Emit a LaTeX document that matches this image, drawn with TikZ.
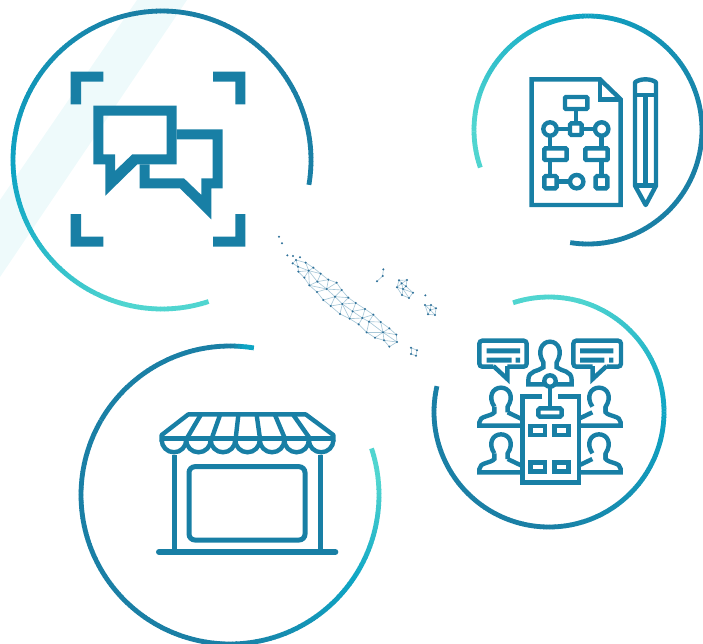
\documentclass[tikz,border=0pt]{standalone}
\usepackage{xcolor}
\definecolor{icon}{HTML}{187FA5}
\definecolor{dk}{HTML}{1A7FA5}
\definecolor{bl}{HTML}{0EA5C4}
\definecolor{tl}{HTML}{50D5D0}
\definecolor{stripe}{HTML}{EEFAFB}
\definecolor{mesh}{HTML}{A9C8D8}
\definecolor{dot}{HTML}{2C6F98}
\tikzset{
  ic/.style={draw=icon,line width=#1,line join=miter,fill=none},
  ic/.default=4.4pt,
  solidicon/.style={fill=icon,draw=none,even odd rule},
  zoomthree/.style={x=0.33333pt,y=-0.33333pt},
}
% \gradarc{cx}{cy}{r}{a0}{a1}{a2}{a3}{c0}{c1}{c2}: c0 held a0..a1, c0->c1 a1..a2, c1->c2 a2..a3
\makeatletter
\newcommand{\gradarc}[9]{\def\ga@a{#1}\def\ga@b{#2}\def\ga@c{#3}\def\ga@d{#4}\def\ga@e{#5}\def\ga@f{#6}\def\ga@g{#7}\def\ga@h{#8}\def\ga@i{#9}\ga@next}
\newcommand{\ga@next}[1]{%
  \pgfmathtruncatemacro{\ga@n}{abs((\ga@g)-(\ga@d))/1.5+1}%
  \foreach \k in {1,...,\ga@n}{%
    \pgfmathsetmacro{\aone}{(\ga@d)+((\k-1)/\ga@n)*((\ga@g)-(\ga@d))}%
    \pgfmathsetmacro{\atwo}{(\ga@d)+((\k+0.15)/\ga@n)*((\ga@g)-(\ga@d))}%
    \pgfmathsetmacro{\pa}{max(0,min(1,((\aone)-(\ga@e))/((\ga@f)-(\ga@e))))}%
    \pgfmathsetmacro{\pb}{max(0,min(1,((\aone)-(\ga@f))/((\ga@g)-(\ga@f))))}%
    \pgfmathtruncatemacro{\qa}{100*(1-\pa)}%
    \pgfmathtruncatemacro{\qb}{100*(1-\pb)}%
    \colorlet{segc}{\ga@i!\qb!#1}%
    \ifdim\pa pt<1pt \colorlet{segc}{\ga@h!\qa!\ga@i}\fi
    \draw[segc,line width=4.8pt] ({\ga@a+\ga@c*cos(\aone)},{\ga@b+\ga@c*sin(\aone)}) -- ({\ga@a+\ga@c*cos(\atwo)},{\ga@b+\ga@c*sin(\atwo)});
  }%
}
\makeatother
\newcommand{\person}[2]{%
  \begin{scope}[shift={(#1,#2)}]
  \draw[ic] (-20,25) .. controls (-40,-5) and (-25,-32) .. (0,-32) .. controls (25,-32) and (40,-5) .. (20,25) -- (20,42);
  \draw[ic] (-20,25) -- (-20,42) .. controls (-30,55) and (-65,52) .. (-65,72) -- (-65,82) -- (62,82);
  \draw[ic] (20,42) -- (62,62);
  \end{scope}}
\newcommand{\personr}[2]{%
  \begin{scope}[shift={(#1,#2)}]
  \draw[ic] (-20,25) .. controls (-40,-5) and (-25,-32) .. (0,-32) .. controls (25,-32) and (40,-5) .. (20,25) -- (20,42);
  \draw[ic] (20,25) -- (20,42) .. controls (30,55) and (65,52) .. (65,72) -- (65,82) -- (-62,82);
  \draw[ic] (-20,42) -- (-62,62);
  \end{scope}}
\begin{document}
\begin{tikzpicture}[x=1pt,y=-1pt]
\useasboundingbox (0,0) rectangle (703,643);
\fill[stripe] (137,0) -- (187,0) -- (0,277) -- (0,200) -- cycle;

% rings
\gradarc{162}{160}{149}{9.6}{-100}{-185}{-255}{dk}{bl}{tl}
\gradarc{162}{160}{149}{-255}{-265}{-275}{-288}{tl}{tl}{tl}
\gradarc{588}{130}{114}{459}{360}{260}{185}{dk}{bl}{tl}
\gradarc{588}{130}{114}{185}{180}{170}{161}{tl}{tl}{tl}
\gradarc{230}{495}{149}{-150}{-90}{-85}{-81}{dk}{bl}{bl}
\gradarc{230}{495}{149}{-150}{-270}{-325}{-365}{dk}{bl}{tl}
\gradarc{230}{495}{149}{-365}{-368}{-372}{-378}{tl}{tl}{tl}
\gradarc{549}{412}{115}{553}{450}{360}{285}{dk}{bl}{tl}
\gradarc{549}{412}{115}{286}{270}{260}{252}{tl}{tl}{tl}

% chat icon
\begin{scope}[zoomthree]
\fill[solidicon] (212,215) -- (310,215) -- (310,245) -- (243,245) -- (243,313) -- (212,313) -- cycle;
\fill[solidicon] (736,215) -- (639,215) -- (639,245) -- (706,245) -- (706,313) -- (736,313) -- cycle;
\fill[solidicon] (212,740) -- (310,740) -- (310,710) -- (243,710) -- (243,642) -- (212,642) -- cycle;
\fill[solidicon] (736,740) -- (639,740) -- (639,710) -- (706,710) -- (706,642) -- (736,642) -- cycle;
\fill[solidicon] (280,317) -- (530,317) -- (530,493) -- (412,493) -- (316,587) -- (316,493) -- (280,493) -- cycle
  (310,347) -- (500,347) -- (500,463) -- (397,463) -- (345,513) -- (345,463) -- (310,463) -- cycle;
\fill[solidicon] (530,388) -- (668,388) -- (668,565) -- (634,565) -- (634,658) -- (540,565) -- (419,565) -- (419,493) -- (449,493) -- (449,535) -- (552,535) -- (604,585) -- (604,535) -- (638,535) -- (638,418) -- (530,418) -- cycle;
\end{scope}

% document and pencil icon
\begin{scope}[shift={(515,65)},zoomthree]
\draw[ic] (50,43) -- (255,43) -- (317,103) -- (317,420) -- (50,420) -- cycle;
\draw[ic] (255,43) -- (255,103) -- (317,103);
\draw[ic,rounded corners=1pt] (150,96) rectangle (217,132);
\draw[ic] (183,132) -- (183,175);
\draw[ic,rounded corners=1.5pt] (165,175) rectangle (200,210);
\draw[ic] (105,192) circle[radius=6.7pt];
\draw[ic] (260,192) circle[radius=6.7pt];
\draw[ic] (125,192) -- (165,192) (200,192) -- (240,192);
\draw[ic] (105,212) -- (105,250) (260,212) -- (260,250);
\draw[ic,rounded corners=1pt] (88,250) rectangle (155,285);
\draw[ic,rounded corners=1pt] (211,250) rectangle (278,285);
\draw[ic] (105,285) -- (105,333) (260,285) -- (260,333);
\draw[ic,rounded corners=1.5pt] (88,333) rectangle (125,370);
\draw[ic] (125,350) -- (165,350);
\draw[ic] (185,350) circle[radius=6.7pt];
\draw[ic,rounded corners=1.5pt] (242,333) rectangle (277,370);
% pencil
\draw[ic,line join=round] (360,362) -- (360,52) .. controls (375,40) and (408,40) .. (423,52) -- (423,362) -- (392,420) -- cycle;
\draw[ic] (360,90) -- (423,90) (391,90) -- (391,362) (360,362) -- (423,362);
\end{scope}

% shop icon
\begin{scope}[shift={(145,400)},zoomthree]
\draw[ic=6pt,line cap=round] (42,456) -- (571,456);
\draw[ic=5pt] (87,165) -- (87,456) (525,165) -- (525,456);
\draw[ic=5pt,rounded corners=6pt] (132,200) rectangle (480,420);
\draw[ic,line join=round] (50,125) -- (50,105) -- (130,43) -- (482,43) -- (565,105) -- (565,125);
\draw[ic] (50,116) -- (565,116);
\foreach \xa in {50,123.6,197.2,270.8,344.4,418,491.6}{
  \draw[ic] (\xa,120) arc[start angle=180,end angle=360,radius=12.27pt];
}
\draw[ic] (167,45) -- (125,116) (225,45) -- (200,116) (280,45) -- (272,116)
  (335,45) -- (345,116) (390,45) -- (420,116) (445,45) -- (495,116);
\end{scope}

% meeting icon
\begin{scope}[shift={(460,325)},zoomthree]
\draw[ic,rounded corners=3pt] (100,125) -- (58,125) -- (58,47) -- (200,47) -- (200,125) -- (142,125);
\draw[ic,line join=miter] (100,123) -- (142,162) -- (142,123);
\fill[icon] (80,70) rectangle (180,85) (80,98) rectangle (155,113) (167,98) rectangle (180,113);
\draw[ic,rounded corners=3pt] (440,125) -- (483,125) -- (483,47) -- (340,47) -- (340,125) -- (398,125);
\draw[ic,line join=miter] (440,123) -- (398,162) -- (398,123);
\fill[icon] (360,70) rectangle (460,85) (360,98) rectangle (433,113) (447,98) rectangle (460,113);
% presenter
\draw[ic] (250,112) .. controls (230,80) and (245,50) .. (270,50) .. controls (295,50) and (310,80) .. (290,112) -- (290,127) .. controls (305,140) and (335,135) .. (335,165) -- (335,178) -- (205,178) -- (205,165) .. controls (205,135) and (235,140) .. (250,127) -- cycle;
\draw[ic,fill=white] (270,168) circle[radius=5.7pt];
\draw[ic] (270,186) -- (270,245);
\draw[ic,rounded corners=1.5pt] (235,275) -- (235,250) -- (305,250) -- (305,275) -- cycle;
% table
\draw[ic] (247,215) -- (187,215) -- (187,472) -- (357,472) -- (357,215) -- (295,215);
\draw[ic] (212,303) rectangle (255,330) (283,303) rectangle (325,330) (212,412) rectangle (255,440) (283,412) rectangle (325,440);
% audience
\person{123}{220}
\person{123}{360}
\personr{417}{220}
\personr{417}{360}
\end{scope}

% constellation
\begin{scope}[shift={(270,225)},zoomthree]
\foreach \i/\xa/\ya in {1/78/105,2/68/115,3/107/113,4/84/125,5/116/137,6/130/128,7/85/140,8/152/146,9/103/158,10/142/170,11/175/164,12/118/181,13/170/192,14/200/173,15/215/195,16/141/201,17/195/215,18/235/218,19/160/225,20/217/237,21/182/243,22/257/234,23/248/259,24/285/252,25/210/267,26/277/279,27/310/269,28/239/281,29/297/290,30/332/291,31/266/298,32/358/310,33/339/322,34/290/322,35/379/329,36/315/338,37/342/346,38/381/351,39/358/365,40/27/35,41/36/55,42/52/91,43/69/93,44/90/97,45/340/133,46/338/153,47/321/169,48/387/166,49/411/165,50/395/175,51/408/184,52/381/187,53/399/192,54/429/203,55/396/210,56/417/219,57/466/211,58/465/240,59/483/240,60/498/250,61/481/255,62/474/268,63/495/270,64/423/368,65/441/376,66/423/387,67/438/392}
  {\coordinate (p\i) at (\xa,\ya);}
\foreach \a/\b in {1/2,1/3,1/4,2/4,3/5,3/6,4/5,4/7,5/6,5/7,5/8,6/8,7/9,5/9,9/12,5/12,5/10,8/10,10/12,8/11,10/11,10/13,12/13,11/13,11/14,13/14,14/15,13/15,12/16,13/16,16/19,13/17,15/17,19/17,15/18,17/18,17/20,18/20,18/22,19/21,17/21,21/20,20/22,20/23,22/23,22/24,23/24,23/26,24/26,24/27,26/27,21/25,20/25,25/28,20/28,23/28,28/26,28/31,26/31,26/29,27/29,27/30,29/30,31/34,29/34,29/33,30/33,30/32,32/33,32/35,33/35,34/33,34/36,36/33,36/37,33/37,33/38,35/38,37/38,37/39,38/39,45/46,46/47,48/49,48/50,49/50,49/51,50/51,48/52,50/52,50/53,51/53,52/53,51/54,53/54,52/55,53/55,55/56,54/56,53/56,58/59,59/60,58/61,59/61,60/61,58/62,61/62,61/63,60/63,62/63,64/65,64/66,65/67,66/67}
  {\draw[mesh,line width=0.65pt] (p\a) -- (p\b);}
\foreach \i in {1,...,67}{\fill[dot] (p\i) circle[radius=1.15pt];}
\end{scope}
\end{tikzpicture}
\end{document}
